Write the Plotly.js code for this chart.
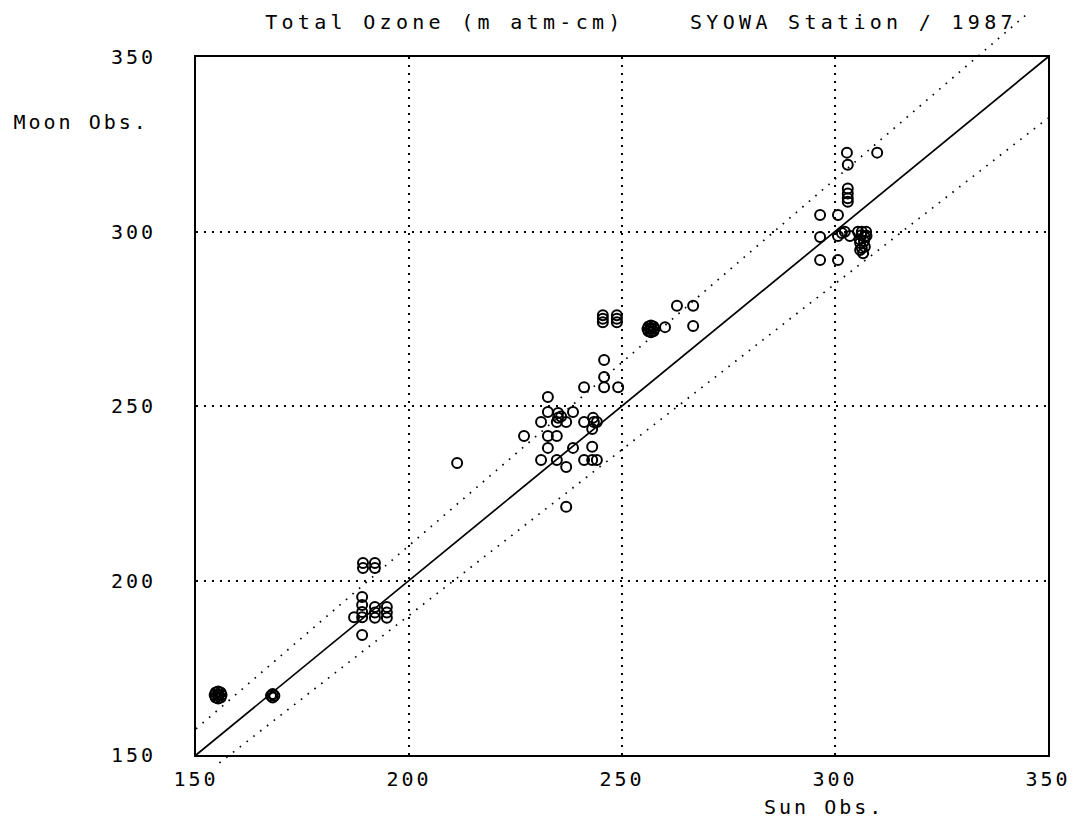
<!DOCTYPE html>
<html>
<head>
<meta charset="utf-8">
<script src="https://cdn.plot.ly/plotly-3.0.1.min.js"></script>
<style>
  html, body { margin: 0; padding: 0; background: #fff; }
  #chart { width: 1075px; height: 821px; }
  .main-svg text { letter-spacing: 3px; }
  .main-svg .gtitle { letter-spacing: 4.3px; }
</style>
</head>
<body>
<div id="chart"></div>
<script>
// Sun observation (x) and Moon observation (y), total ozone in m atm-cm
const sunObs = [
  156.0, 155.78, 155.2, 154.62, 154.38, 154.62, 155.2, 155.78, 155.2,
  168, 168, 168.4, 167.6,
  189.2, 192, 189.2, 192,
  189, 189,
  187.1,
  189, 189,
  192, 192, 192,
  194.8, 194.8, 194.8,
  189,
  211.3,
  227,
  231, 231,
  232.6, 232.6, 232.6, 232.6,
  234.7, 234.7, 234.7,
  235, 235, 235.7,
  236.9, 236.9, 236.9,
  238.5, 238.5,
  241.1, 241.1, 241.1,
  243.2, 243.4, 243, 243, 243,
  244.1, 244.1,
  245.8, 245.8, 245.8,
  249.1,
  245.5, 245.5, 245.5, 248.8, 248.8, 248.8,
  257.62, 257.38, 256.8, 256.22, 255.98, 256.22, 256.8, 257.38, 256.8,
  260.1,
  262.9, 266.7, 266.7,
  302.8, 309.9, 303,
  303, 303, 303, 303,
  296.5, 300.7,
  296.5, 300.7, 301.6, 302.3, 303.5,
  305.4, 306.3, 307.3, 307, 306.2, 305.8, 306.8, 307.4,
  305.9, 305.9, 307, 306.6, 306.3,
  296.5, 300.7
];
const moonObs = [
  167.2, 167.91, 168.2, 167.91, 167.2, 166.49, 166.2, 166.49, 167.2,
  167.5, 166.5, 167, 167,
  205, 205, 203.6, 203.6,
  195.3, 193,
  189.5,
  191, 189.5,
  192.4, 190.8, 189.3,
  192.4, 190.8, 189.3,
  184.4,
  233.7,
  241.4,
  245.4, 234.5,
  252.6, 248.3, 241.4, 238,
  245.4, 241.4, 234.5,
  248, 246.6, 247,
  245.4, 232.5, 221.1,
  248.3, 238,
  255.4, 245.4, 234.5,
  246.6, 245.4, 243.4, 238.3, 234.5,
  245.4, 234.5,
  263.2, 258.3, 255.4,
  255.4,
  276, 275, 274, 276, 275, 274,
  272.1, 272.81, 273.1, 272.81, 272.1, 271.39, 271.1, 271.39, 272.1,
  272.6,
  278.7, 278.7, 272.9,
  322.6, 322.6, 319.1,
  312.3, 310.9, 309.5, 308.5,
  304.7, 304.7,
  298.4, 298.7, 299.6, 299.9, 298.7,
  299.9, 299.9, 299.9, 298.4, 298.9, 297.8, 297.2, 298.8,
  296.7, 294.7, 295.6, 293.8, 295.3,
  291.8, 291.8
];

const axisRange = [150, 350];
const tickVals = [150, 200, 250, 300, 350];
const tickText = ['150', '200', '250', '300', '350'];

// Reference lines: y = slope * x, with their drawn x extents
const refSlopes = [1.0, 1.05, 0.95];
const refStartX = [150, 150, 155.5];
const refEndX = [350, 345.3, 350];
const refDash = ['solid', '1.6px,7px', '1.6px,7px'];

const titleText = 'Total Ozone (m atm-cm)\u00a0\u00a0\u00a0\u00a0SYOWA Station / 1987';
const yLabel = 'Moon Obs.';
const xLabel = 'Sun Obs.';

const FONT = '"DejaVu Sans Mono", "Liberation Mono", monospace';

function frac(v) { return (v - axisRange[0]) / (axisRange[1] - axisRange[0]); }

const shapes = refSlopes.map((s, i) => ({
  type: 'line',
  xref: 'x domain', yref: 'y domain',
  x0: frac(refStartX[i]), y0: frac(s * refStartX[i]),
  x1: frac(refEndX[i]), y1: frac(s * refEndX[i]),
  line: { color: '#000', width: 1.7, dash: refDash[i] },
  layer: 'below'
}));

const trace = {
  type: 'scatter',
  mode: 'markers',
  x: sunObs,
  y: moonObs,
  cliponaxis: false,
  marker: {
    symbol: 'circle-open',
    size: 10,
    color: '#000',
    line: { width: 2, color: '#000' }
  },
  hoverinfo: 'x+y'
};

const axisCommon = {
  range: axisRange,
  tickmode: 'array',
  tickvals: tickVals,
  ticktext: tickText,
  showline: true,
  mirror: true,
  linecolor: '#000',
  linewidth: 2,
  showgrid: true,
  gridcolor: '#000',
  gridwidth: 2,
  griddash: '2px,6px',
  zeroline: false,
  ticks: 'outside',
  tickcolor: 'rgba(0,0,0,0)',
  tickfont: { family: FONT, size: 20, color: '#000' },
  automargin: false,
  fixedrange: true
};

const layout = {
  width: 1075,
  height: 821,
  margin: { l: 196, r: 27, t: 57, b: 66, pad: 0 },
  paper_bgcolor: '#fff',
  plot_bgcolor: '#fff',
  showlegend: false,
  font: { family: FONT, size: 20, color: '#000' },
  title: {
    text: titleText,
    font: { family: FONT, size: 20, color: '#000' },
    xref: 'container', x: 641 / 1075, xanchor: 'center',
    yref: 'container', y: 1 - 22 / 821, yanchor: 'middle'
  },
  xaxis: Object.assign({}, axisCommon, { ticklen: 5 }),
  yaxis: Object.assign({}, axisCommon, { ticklen: 34 }),
  shapes: shapes,
  annotations: [
    {
      text: yLabel, xref: 'paper', yref: 'paper',
      x: (81 - 196) / 852, xanchor: 'center',
      y: (755 - 122) / 698, yanchor: 'middle',
      showarrow: false, font: { family: FONT, size: 20, color: '#000' }
    },
    {
      text: xLabel, xref: 'paper', yref: 'paper',
      x: (824 - 196) / 852, xanchor: 'center',
      y: (755 - 807) / 698, yanchor: 'middle',
      showarrow: false, font: { family: FONT, size: 20, color: '#000' }
    }
  ]
};

Plotly.newPlot('chart', [trace], layout, { displayModeBar: false, staticPlot: true });
</script>
</body>
</html>
